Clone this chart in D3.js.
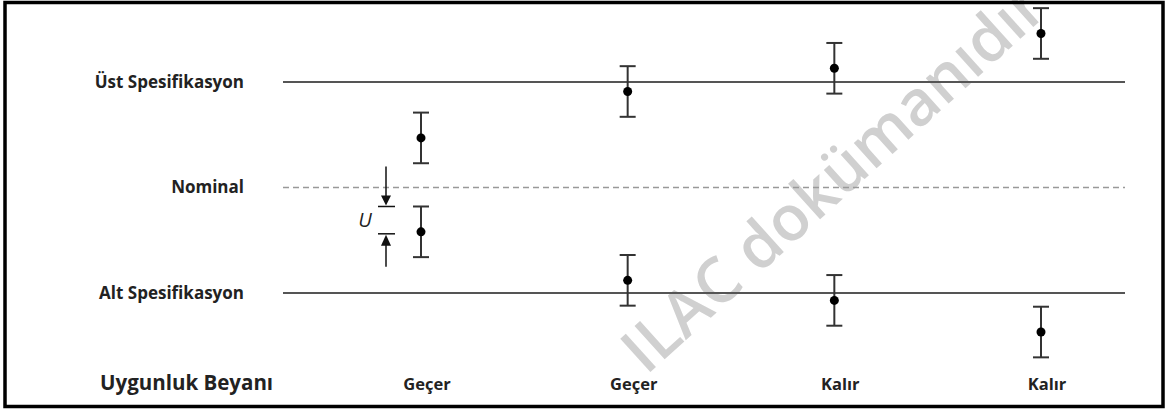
<!DOCTYPE html>
<html>
<head>
<meta charset="utf-8">
<script src="https://cdn.jsdelivr.net/npm/d3@7"></script>
<style>
    body { margin: 0; background: #fff; }
    svg { display: block; }
</style>
</head>
<body>
<svg id="chart"></svg>
<script>
const width = 1166;
const height = 412;

// one column per measurement case
const caseIds = [0, 1, 2, 3];
const verdicts = ["Geçer", "Geçer", "Kalır", "Kalır"];
const upperResults = [10.47, 10.91, 11.13, 11.46];
const lowerResults = [9.58, 9.12, 8.93, 8.63];
const expandedU = 0.24;

const specLabels = ["Üst Spesifikasyon", "Nominal", "Alt Spesifikasyon"];
const specValues = [11, 10, 9];
const specDashed = [false, true, false];

const verdictTitle = "Uygunluk Beyanı";
const watermark = "ILAC dokümanıdır";

const fontFamily = "'Open Sans', Lato, sans-serif";
const lineColor = "#555";
const barColor = "#333";

const svg = d3.select("#chart").attr("width", width).attr("height", height);

const x = d3.scalePoint().domain(caseIds).range([421, 1041]);
const y = d3.scaleLinear().domain([9, 11]).range([293, 82]);

const lineStart = 283;
const lineEnd = 1125;

// watermark under everything
svg.append("text")
    .attr("transform", "translate(646,376) rotate(-42)")
    .attr("font-family", fontFamily)
    .attr("font-size", 63)
    .attr("font-weight", 600)
    .attr("fill", "#d0d0d0")
    .text(watermark);

// spec lines
const specs = specValues.map((v, i) => ({ value: v, label: specLabels[i], dashed: specDashed[i] }));

svg.selectAll("line.spec")
    .data(specs)
    .join("line")
    .attr("class", "spec")
    .attr("x1", lineStart)
    .attr("x2", lineEnd)
    .attr("y1", (d) => y(d.value))
    .attr("y2", (d) => y(d.value))
    .attr("stroke", (d) => (d.dashed ? "#999" : lineColor))
    .attr("stroke-width", (d) => (d.dashed ? 1.5 : 2))
    .attr("stroke-dasharray", (d) => (d.dashed ? "6,4" : null));

svg.selectAll("text.spec")
    .data(specs)
    .join("text")
    .attr("class", "spec")
    .attr("x", 244)
    .attr("y", (d) => y(d.value))
    .attr("dy", "0.35em")
    .attr("text-anchor", "end")
    .attr("font-family", fontFamily)
    .attr("font-weight", "bold")
    .attr("font-size", 17)
    .attr("fill", "#222")
    .text((d) => d.label);

// measurement results with error bars
const results = caseIds.flatMap((c) => [
    { id: c, value: upperResults[c] },
    { id: c, value: lowerResults[c] },
]);

const capHalf = 8;

const marks = svg.selectAll("g.result")
    .data(results)
    .join("g")
    .attr("class", "result")
    .attr("transform", (d) => "translate(" + x(d.id) + ",0)");

marks.append("line")
    .attr("y1", (d) => y(d.value + expandedU))
    .attr("y2", (d) => y(d.value - expandedU))
    .attr("stroke", barColor)
    .attr("stroke-width", 2);

marks.selectAll("line.cap")
    .data((d) => [d.value + expandedU, d.value - expandedU])
    .join("line")
    .attr("class", "cap")
    .attr("x1", -capHalf)
    .attr("x2", capHalf)
    .attr("y1", (v) => y(v))
    .attr("y2", (v) => y(v))
    .attr("stroke", barColor)
    .attr("stroke-width", 2);

marks.append("circle")
    .attr("r", 4.5)
    .attr("cy", (d) => y(d.value))
    .attr("fill", "#000");

// U annotation beside the first lower result
const uTop = y(lowerResults[0] + expandedU);
const uBottom = y(lowerResults[0]) + 2;
const ax = 386;
const u = svg.append("g").attr("stroke", "#111").attr("fill", "#111");

u.append("line").attr("x1", ax).attr("x2", ax).attr("y1", uTop - 40).attr("y2", uTop - 8).attr("stroke-width", 1.5);
u.append("path").attr("d", `M${ax - 5},${uTop - 11} L${ax + 5},${uTop - 11} L${ax},${uTop - 1} Z`).attr("stroke", "none");
u.append("line").attr("x1", ax - 8).attr("x2", ax + 9).attr("y1", uTop).attr("y2", uTop).attr("stroke-width", 1.5);

u.append("line").attr("x1", ax - 8).attr("x2", ax + 9).attr("y1", uBottom).attr("y2", uBottom).attr("stroke-width", 1.5);
u.append("path").attr("d", `M${ax - 5},${uBottom + 12} L${ax + 5},${uBottom + 12} L${ax},${uBottom + 1} Z`).attr("stroke", "none");
u.append("line").attr("x1", ax).attr("x2", ax).attr("y1", uBottom + 9).attr("y2", uBottom + 33).attr("stroke-width", 1.5);

svg.append("text")
    .attr("x", 365)
    .attr("y", (uTop + uBottom) / 2)
    .attr("dy", "0.35em")
    .attr("text-anchor", "middle")
    .attr("font-family", fontFamily)
    .attr("font-style", "italic")
    .attr("font-size", 20)
    .attr("fill", "#222")
    .text("U");

// verdict row
svg.append("text")
    .attr("x", 100)
    .attr("y", 390)
    .attr("font-family", fontFamily)
    .attr("font-weight", "bold")
    .attr("font-size", 20.5)
    .attr("fill", "#222")
    .text(verdictTitle);

svg.selectAll("text.verdict")
    .data(caseIds)
    .join("text")
    .attr("class", "verdict")
    .attr("x", (d) => x(d) + 6)
    .attr("y", 390)
    .attr("text-anchor", "middle")
    .attr("font-family", fontFamily)
    .attr("font-weight", "bold")
    .attr("font-size", 16.5)
    .attr("fill", "#222")
    .text((d) => verdicts[d]);

// frame
svg.append("rect")
    .attr("x", 5)
    .attr("y", 2.5)
    .attr("width", 1158)
    .attr("height", 404)
    .attr("fill", "none")
    .attr("stroke", "#000")
    .attr("stroke-width", 3.5);
</script>
</body>
</html>
